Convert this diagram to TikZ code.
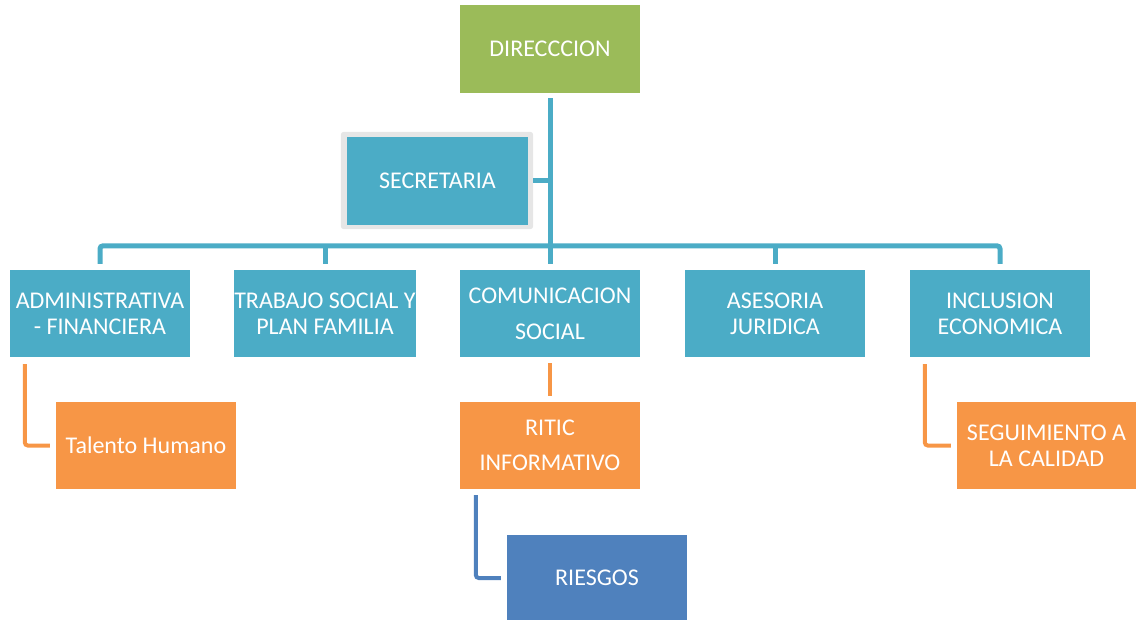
\documentclass[tikz,border=0pt]{standalone}
\usepackage{fontspec}
\setmainfont{Carlito}
\usetikzlibrary{calc}
\definecolor{cteal}{HTML}{4BACC6}
\definecolor{corange}{HTML}{F79646}
\definecolor{cgreen}{HTML}{9BBB59}
\definecolor{cblue}{HTML}{4F81BD}
\definecolor{cframe}{HTML}{E6E6E6}
\begin{document}
\begin{tikzpicture}[x=1pt,y=-1pt,
  box/.style={rectangle,minimum width=180pt,minimum height=87pt,inner sep=0pt,
    text=white,align=center,font=\fontsize{24}{26}\selectfont},
  tealbox/.style={box,fill=cteal},
  orangebox/.style={box,fill=corange},
  tealline/.style={draw=cteal,line width=5pt,rounded corners=3pt},
  orangeline/.style={draw=corange,line width=4pt,rounded corners=3pt},
  blueline/.style={draw=cblue,line width=4pt,rounded corners=3pt}]
\useasboundingbox (0,0) rectangle (1136,620);

% top level
\node[box,fill=cgreen,minimum height=88pt] (dir) at (550,49) {DIRECCCION};

% secretaria with light frame
\node[tealbox,minimum width=181pt,minimum height=88pt] (sec) at (437.5,181) {};
\fill[cframe,rounded corners=3pt] ([shift={(-6,-5)}]sec.north west) rectangle ([shift={(5,4)}]sec.south east);
\node[tealbox,minimum width=181pt,minimum height=88pt] at (sec) {SECRETARIA};

% second level
\node[tealbox] (adm) at (100,313.5) {ADMINISTRATIVA\\- FINANCIERA};
\node[tealbox] (tra) at (325,313.5) {TRABAJO SOCIAL Y\\PLAN FAMILIA};
\node[tealbox] (com) at (550,313.5) {COMUNICACION\\[10pt]SOCIAL};
\node[tealbox] (ase) at (775,313.5) {ASESORIA\\JURIDICA};
\node[tealbox] (inc) at (1000,313.5) {INCLUSION\\ECONOMICA};

% third level
\node[orangebox] (tal) at (146,445.5) {Talento Humano};
\node[orangebox] (rit) at (550,445.5) {RITIC\\[9pt]INFORMATIVO};
\node[orangebox,minimum width=179pt] (seg) at (1046.5,445.5) {SEGUIMIENTO A\\LA CALIDAD};

% fourth level
\node[box,fill=cblue,minimum height=86pt] (rie) at (597,578) {RIESGOS};

% trunk and bus
\coordinate (bus) at ($(com.north)+(0,-24)$);
\draw[tealline,rounded corners=0pt] ($(dir.south)+(0,5)$) -- ($(com.north)+(0,-6)$);
\draw[tealline] ($(adm.north)+(0,-6)$) |- (bus) -| ($(inc.north)+(0,-6)$);
\draw[tealline,rounded corners=0pt] ($(tra.north)+(0,-6)$) -- ($(tra.north)+(0,-24)$);
\draw[tealline,rounded corners=0pt] ($(ase.north)+(0,-6)$) -- ($(ase.north)+(0,-24)$);
\draw[tealline,rounded corners=0pt] ($(sec.east)+(5,0)$) -- (dir.south |- sec.east);

% branches to lower levels
\draw[orangeline] ($(adm.south west)+(15,7)$) |- ($(tal.west)+(-6,0)$);
\draw[orangeline,rounded corners=0pt] ($(com.south)+(0,6)$) -- ($(rit.north)+(0,-6)$);
\draw[orangeline] ($(inc.south west)+(15,7)$) |- ($(seg.west)+(-6,0)$);
\draw[blueline] ($(rit.south west)+(16,6)$) |- ($(rie.west)+(-6,0)$);
\end{tikzpicture}
\end{document}
